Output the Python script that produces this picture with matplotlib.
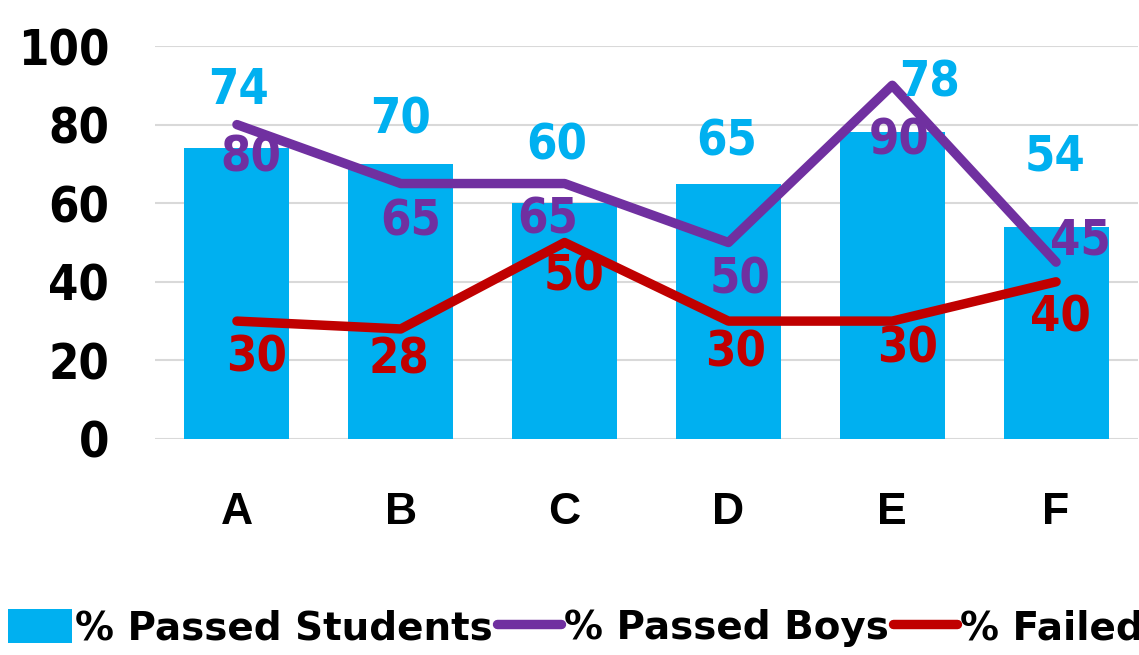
import numpy as np
import matplotlib.pyplot as plt

categories = ['A', 'B', 'C', 'D', 'E', 'F']
passed_students = [74, 70, 60, 65, 78, 54]
passed_boys = [80, 65, 65, 50, 90, 45]
failed = [30, 28, 50, 30, 30, 40]

# label offsets in pixels (dx, dy)
off_students = [(2, 58), (0, 44), (-8, 58), (-2, 42), (37, 50), (-1, 70)]
off_boys = [(14, -33), (10, -38), (-17, -36), (12, -37), (7, -55), (24, 22)]
off_failed = [(20, -36), (-2, -31), (9, -34), (7, -31), (15, -27), (4, -36)]

blue = '#00B0F0'
purple = '#7030A0'
red = '#C00000'

cond = ['DejaVu Sans Condensed', 'DejaVu Sans']

fig = plt.figure(figsize=(11.39, 6.55), dpi=100)
ax = fig.add_axes([155 / 1139, 216 / 655, 983 / 1139, 393 / 655])

x = np.arange(len(categories))
bars = ax.bar(x, passed_students, width=0.64, color=blue, label='% Passed Students', zorder=2)
l1, = ax.plot(x, passed_boys, color=purple, lw=6.8, solid_capstyle='round', label='% Passed Boys', zorder=3)
l2, = ax.plot(x, failed, color=red, lw=6.8, solid_capstyle='round', label='% Failed Students', zorder=3)

for vals, offs, col in [(passed_students, off_students, blue),
                        (passed_boys, off_boys, purple),
                        (failed, off_failed, red)]:
    for i, v in enumerate(vals):
        ax.annotate(str(v), (x[i], v), xytext=offs[i], textcoords='offset pixels',
                    ha='center', va='center', color=col, fontsize=35, fontweight='bold',
                    family=cond, fontstretch='condensed', zorder=4)

ax.set_xlim(-0.5, 5.5)
ax.set_ylim(0, 100)
ax.set_yticks(np.arange(0, 101, 20))
ax.set_xticks(x)
ax.set_xticklabels(categories)
ax.tick_params(axis='y', length=0, pad=33)
ax.tick_params(axis='x', length=0, pad=38)
for lbl in ax.get_yticklabels():
    lbl.set_fontweight('bold')
    lbl.set_family(cond)
    lbl.set_fontstretch('condensed')
    lbl.set_fontsize(35)
for lbl in ax.get_xticklabels():
    lbl.set_fontweight('bold')
    lbl.set_family('Liberation Sans')
    lbl.set_fontsize(32)
ax.grid(axis='y', color='#D9D9D9', lw=1.5, zorder=0)
ax.set_axisbelow(True)
for s in ax.spines.values():
    s.set_visible(False)

fig.legend([bars, l1, l2], ['% Passed Students', '% Passed Boys', '% Failed Students'],
           loc='center left', bbox_to_anchor=(0.0, 0.041), ncol=3, frameon=False,
           handlelength=1.65, handleheight=0.95, handletextpad=0.08, columnspacing=0.1,
           borderpad=0.1, borderaxespad=0.1,
           prop={'weight': 'bold', 'size': 28, 'family': 'DejaVu Sans'})

fig.savefig('out.png', dpi=100)
